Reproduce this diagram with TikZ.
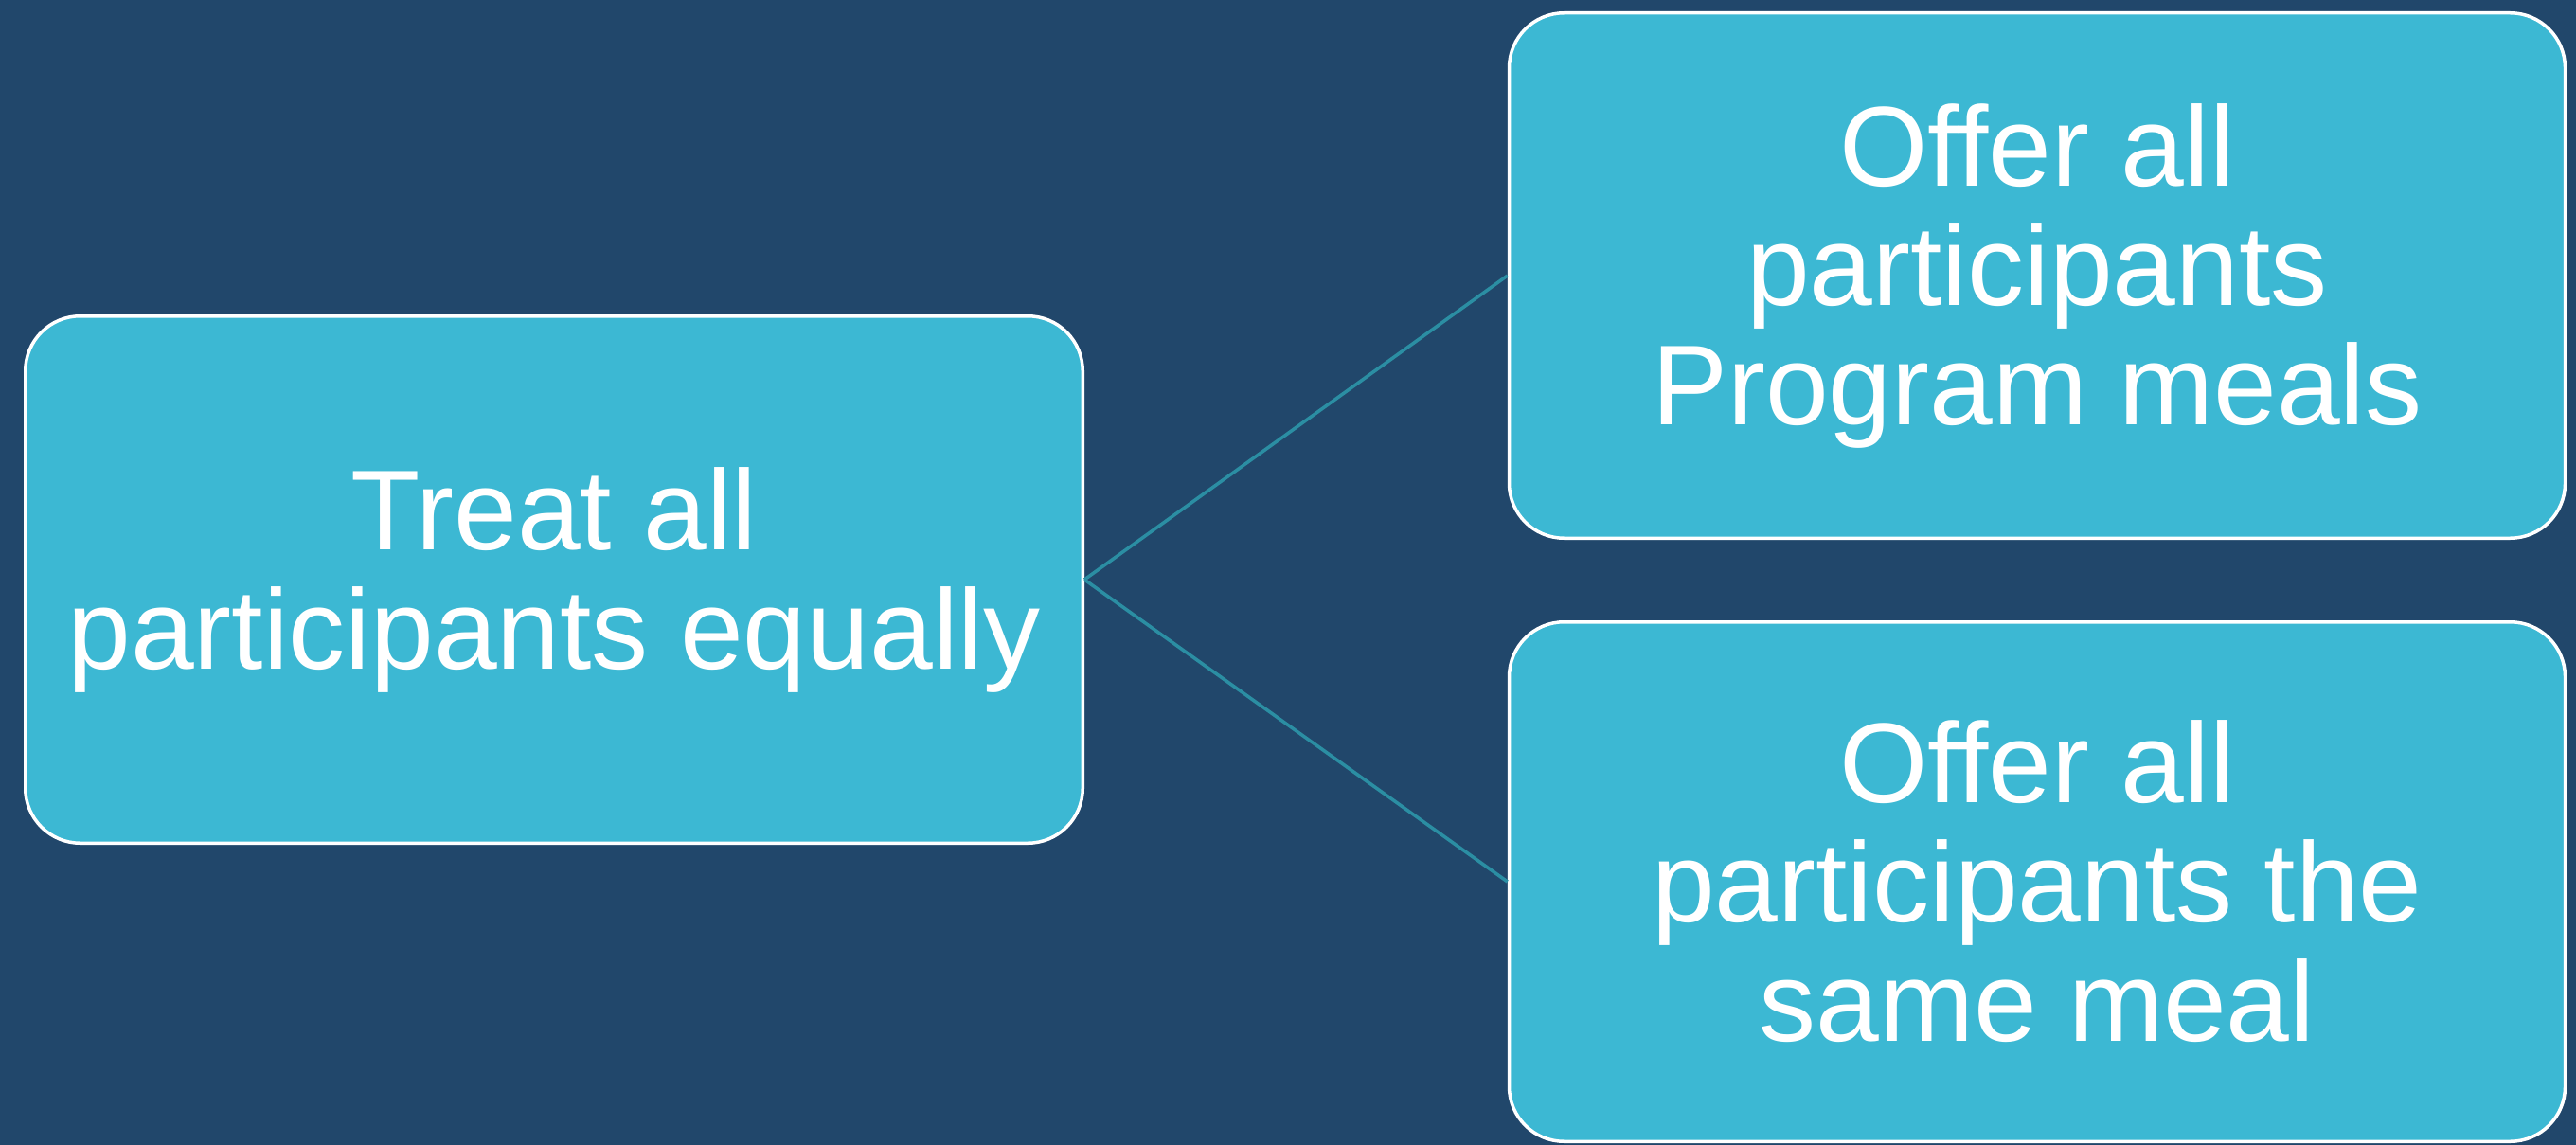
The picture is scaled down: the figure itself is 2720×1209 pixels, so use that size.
\documentclass[tikz,border=0pt]{standalone}
\usepackage{fontspec}
\setmainfont[Ligatures=NoCommon]{Liberation Sans}
\definecolor{bgc}{HTML}{21476B}
\definecolor{boxc}{HTML}{3CB8D3}
\definecolor{linec}{HTML}{2B8EA3}
\begin{document}
\begin{tikzpicture}[x=1pt,y=-1pt]
\tikzset{
  box/.style={rectangle, rounded corners=58pt, fill=boxc, draw=white, line width=3.5pt,
    text=white, align=center, inner sep=0pt, minimum width=1115pt,
    font=\fontsize{120}{126}\selectfont},
  conn/.style={draw=linec, line width=3.5pt}
}
\fill[bgc] (0,0) rectangle (2720,1209);
\useasboundingbox (0,0) rectangle (2720,1209);
\node[box, minimum width=1116.5pt, minimum height=556.5pt] (L) at (585,612) {Treat all\\participants equally};
\node[box, minimum height=554.5pt] (T) at (2151,291) {Offer all\\participants\\Program meals};
\node[box, minimum height=548.5pt] (B) at (2151,931) {Offer all\\participants the\\same meal};
\draw[conn] (L.east) -- (T.west);
\draw[conn] (L.east) -- (B.west);
\end{tikzpicture}
\end{document}
